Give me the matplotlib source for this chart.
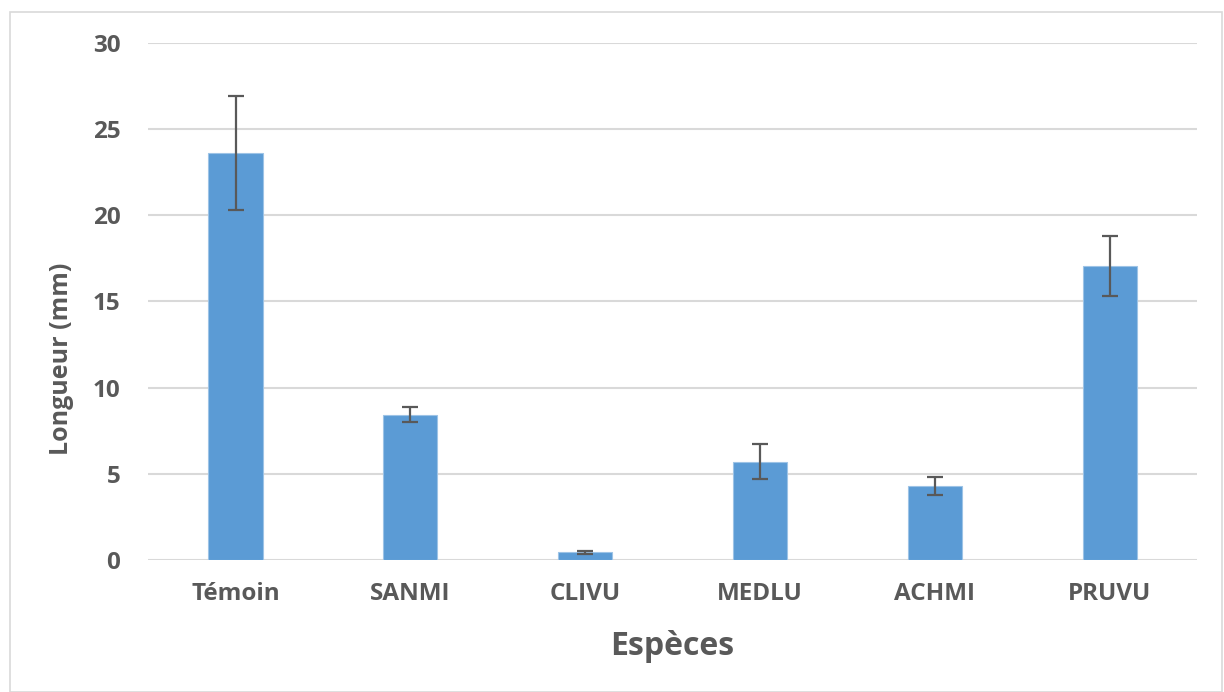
import matplotlib
matplotlib.use('Agg')
import matplotlib.pyplot as plt
import numpy as np
from matplotlib.patches import Rectangle

especes = ['Témoin', 'SANMI', 'CLIVU', 'MEDLU', 'ACHMI', 'PRUVU']
longueur = [23.6, 8.42, 0.45, 5.7, 4.27, 17.05]
erreur = [3.3, 0.44, 0.09, 1.0, 0.52, 1.75]
yticks = [0, 5, 10, 15, 20, 25, 30]

gris = '#595959'
plt.rcParams['font.family'] = ['Open Sans', 'DejaVu Sans']

fig = plt.figure(figsize=(12.24, 6.92), dpi=100)
ax = fig.add_axes([0.121, 0.191, 0.857, 0.747])

x = np.arange(len(especes))
ax.bar(x, longueur, width=0.31, color='#5b9bd5', edgecolor='#9dc3e6', linewidth=0.8,
       zorder=3)
ax.errorbar(x, longueur, yerr=erreur, fmt='none', ecolor=gris, elinewidth=1.6,
            capsize=6, capthick=1.6, zorder=4)

ax.set_xlim(-0.5, len(especes) - 0.5)
ax.set_ylim(0, 30)
ax.set_yticks(yticks)
ax.set_xticks(x)
ax.set_xticklabels(especes)
ax.grid(axis='y', color='#d9d9d9', linewidth=1.5, zorder=0)
ax.tick_params(length=0, labelsize=17.5, labelcolor=gris)
ax.tick_params(axis='y', pad=20)
ax.tick_params(axis='x', pad=16)
for lab in ax.get_xticklabels() + ax.get_yticklabels():
    lab.set_fontweight('bold')
for s in ax.spines.values():
    s.set_visible(False)

ax.set_ylabel('Longueur (mm)', fontsize=18, fontweight='bold', color=gris)
ax.set_xlabel('Espèces', fontsize=23, fontweight='bold', color=gris)
ax.yaxis.set_label_coords(-0.071, 0.389)
ax.xaxis.set_label_coords(0.5, -0.135)

# cadre autour du graphique
fig.patches.append(Rectangle((0.008, 0.0), 0.99, 0.983, transform=fig.transFigure,
                             fill=False, edgecolor='#d9d9d9', linewidth=1.2))

fig.savefig('out.png', dpi=100)
